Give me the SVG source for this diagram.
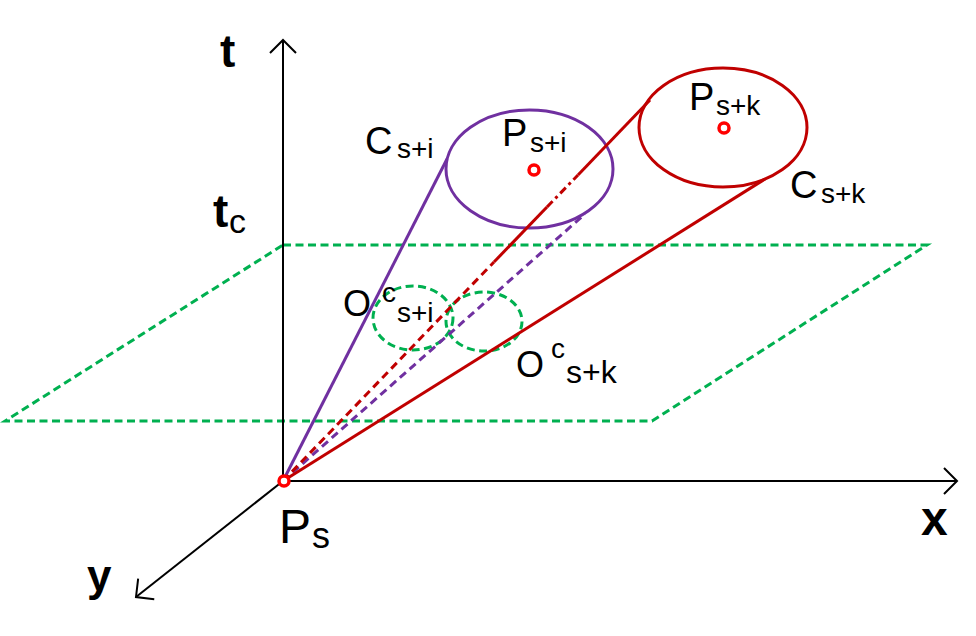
<svg xmlns="http://www.w3.org/2000/svg" width="976" height="636" viewBox="0 0 976 636">
<style>
text{font-family:"Liberation Sans",Arial,sans-serif;fill:#000}
.ax{stroke:#000;stroke-width:2;fill:none}
.g{stroke:#00B050;stroke-width:3;fill:none;stroke-dasharray:8 4.5}
.pu{stroke:#7030A0;stroke-width:3;fill:none}
.rd{stroke:#C00000;stroke-width:3;fill:none}
.dash{stroke-dasharray:8 5}
.dd{stroke-dasharray:8 4 3 4}
.pt{stroke:#FF0000;stroke-width:3.5;fill:#fff}
.b{font-weight:bold}
.big{font-size:38px}
.sub{font-size:28px}
</style>
<defs>
<marker id="arr" markerUnits="userSpaceOnUse" markerWidth="30" markerHeight="30" refX="0" refY="0" orient="auto" overflow="visible">
<path d="M-13,-13 L0,0 L-13,13" fill="none" stroke="#000" stroke-width="2"/>
</marker>
</defs>
<rect width="976" height="636" fill="#fff"/>
<g id="plane">
<path class="g" d="M283,245 L927,245 L652,421 L5,421 Z"/>
</g>
<g id="axes">
<line class="ax" x1="283" y1="481" x2="283" y2="40" marker-end="url(#arr)"/>
<line class="ax" x1="283" y1="481" x2="957" y2="481" marker-end="url(#arr)"/>
<line class="ax" x1="283" y1="481" x2="136" y2="597" marker-end="url(#arr)"/>
</g>
<g id="node-Oci">
<ellipse class="g" cx="413" cy="318" rx="40" ry="32"/>
</g>
<g id="node-Ock">
<ellipse class="g" cx="484" cy="321.5" rx="38" ry="29.5"/>
</g>
<g id="node-Ci">
<ellipse class="pu" cx="529.5" cy="169" rx="83.5" ry="59"/>
</g>
<g id="node-Ck">
<ellipse class="rd" cx="723" cy="127.5" rx="84" ry="59.5"/>
</g>
<g id="connectors">
<line class="pu" x1="283" y1="481" x2="447" y2="159"/>
<line class="pu dash" x1="283" y1="481" x2="585" y2="214"/>
<line class="rd dash" x1="283" y1="481" x2="494" y2="262"/>
<line class="rd" x1="494" y1="262" x2="547" y2="207"/>
<line class="rd dd" x1="547" y1="207" x2="578" y2="175"/>
<line class="rd" x1="578" y1="175" x2="650" y2="100"/>
<line class="rd" x1="283" y1="481" x2="765" y2="179"/>
</g>
<g id="node-Ps">
<circle class="pt" cx="284" cy="481" r="5" fill="none"/>
<text x="279" y="543" font-size="48">P</text>
<text x="312" y="548" font-size="36">s</text>
</g>
<g id="node-Psi">
<circle class="pt" cx="534" cy="170" r="5"/>
<text class="big" x="502" y="146">P</text>
<text class="sub" x="530" y="152">s+i</text>
</g>
<g id="node-Psk">
<circle class="pt" cx="724" cy="128" r="5"/>
<text class="big" x="689" y="110">P</text>
<text class="sub" x="716" y="115">s+k</text>
</g>
<g id="labels">
<text class="b" x="220" y="67" font-size="46">t</text>
<text class="b" x="213" y="227" font-size="46">t</text>
<text x="229" y="233" font-size="34">c</text>
<text class="b" x="921" y="535" font-size="48">x</text>
<text class="b" x="87" y="591" font-size="44">y</text>
<text class="big" x="365" y="154">C</text>
<text class="sub" x="397" y="158">s+i</text>
<text class="big" x="790" y="198">C</text>
<text class="sub" x="821" y="203">s+k</text>
<text x="343" y="316" font-size="36">O</text>
<text x="382" y="302" font-size="28">c</text>
<text class="sub" x="397" y="322">s+i</text>
<text x="516" y="377" font-size="36">O</text>
<text x="551" y="358" font-size="28">c</text>
<text x="566" y="383" font-size="32">s+k</text>
</g>
</svg>
